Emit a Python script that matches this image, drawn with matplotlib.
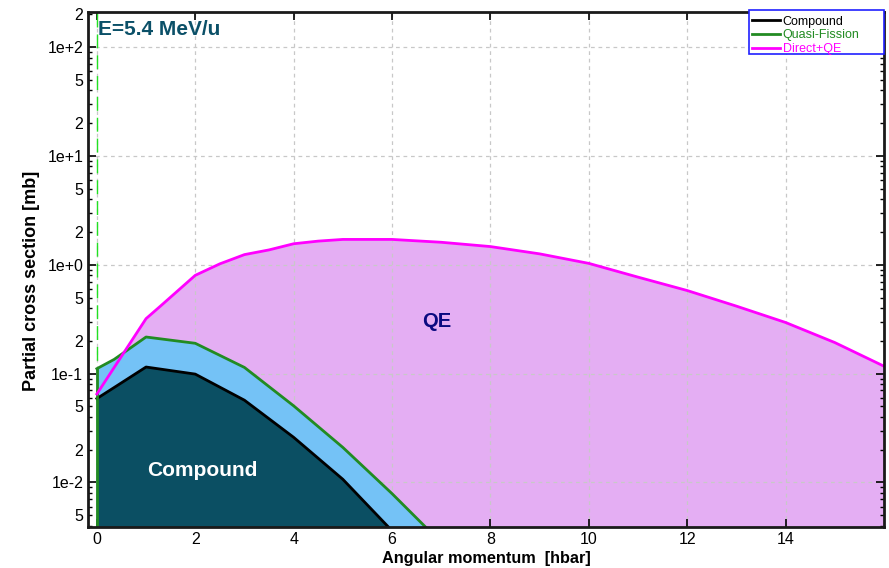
import matplotlib
matplotlib.use("Agg")
import matplotlib.pyplot as plt
from matplotlib.ticker import FixedLocator, FuncFormatter, LogLocator
from matplotlib.patches import Rectangle
import numpy as np

plt.rcParams['font.family'] = ['Liberation Sans', 'DejaVu Sans']

# ---- data ----
L_comp = [0, 0.4, 1, 2, 3, 4, 5, 6]
sigma_comp = [0.059, 0.077, 0.115, 0.099, 0.057, 0.026, 0.0107, 0.0036]

L_qf = [0, 0.35, 1, 2, 3, 4, 5, 6, 7]
sigma_qf = [0.111, 0.135, 0.217, 0.19, 0.114, 0.0506, 0.021, 0.0079, 0.0028]

L_qe = [0, 1, 1.3, 2, 2.5, 3, 3.5, 4, 4.5, 5, 6, 7, 8, 9, 10, 11, 12, 13, 14, 15, 16]
sigma_qe = [0.065, 0.32, 0.42, 0.80, 1.02, 1.24, 1.37, 1.56, 1.65, 1.71, 1.71, 1.61,
            1.47, 1.26, 1.03, 0.77, 0.58, 0.417, 0.295, 0.193, 0.117]

x_ticks = [0, 2, 4, 6, 8, 10, 12, 14]
legend_labels = ["Compound", "Quasi-Fission", "Direct+QE"]
energy_label = "E=5.4 MeV/u"

# ---- figure ----
W, H = 889, 568
fig = plt.figure(figsize=(W / 100, H / 100), dpi=100)
ax = fig.add_axes([88 / W, 1 - 527 / H, (884 - 88) / W, (527 - 12) / H])
ax.set_yscale('log')
ylo, yhi = 0.0039, 210
xlo, xhi = -0.18, 16.0
floor = 1e-8

c_pink = '#E4AEF3'
c_blue = '#74C2F6'
c_dark = '#0B4F63'
c_black = '#000000'
c_green = '#228B22'
c_mag = '#FF00FF'

ax.fill_between(L_qe, floor, sigma_qe, color=c_pink, lw=0, zorder=1)
ax.fill_between(L_qf, floor, sigma_qf, color=c_blue, lw=0, zorder=2)
ax.fill_between(L_comp, floor, sigma_comp, color=c_dark, lw=0, zorder=3)

ax.axvline(L_qf[0], color='#22E022', lw=1.0, ls=(0, (10, 5)), zorder=4)

l1, = ax.plot(L_comp, sigma_comp, color=c_black, lw=2, zorder=5)
l2, = ax.plot(L_qf, sigma_qf, color=c_green, lw=2, zorder=6)
ax.plot([L_qf[0], L_qf[0]], [floor, sigma_qf[0]], color=c_green, lw=2, zorder=6)
l3, = ax.plot(L_qe, sigma_qe, color=c_mag, lw=2, zorder=7)

ax.set_xlim(xlo, xhi)
ax.set_ylim(ylo, yhi)

# grid
ax.grid(True, which='major', color='#c8c8c8', ls=(0, (3, 3)), lw=0.9)
for gl in ax.get_xgridlines() + ax.get_ygridlines():
    gl.set_zorder(4.5)

# ticks
ax.xaxis.set_major_locator(FixedLocator(x_ticks))
ax.xaxis.set_major_formatter(FuncFormatter(lambda v, p: f"{int(v)}"))
ax.yaxis.set_major_locator(LogLocator(base=10, numticks=20))
ax.yaxis.set_minor_locator(LogLocator(base=10, subs=np.arange(2, 10), numticks=50))

def major_fmt(v, p):
    e = int(round(np.log10(v)))
    return f"1e{'+' if e >= 0 else '-'}{abs(e)}"

def minor_fmt(v, p):
    e = np.floor(np.log10(v) + 1e-9)
    m = int(round(v / 10 ** e))
    return str(m) if m in (2, 5) else ""

ax.yaxis.set_major_formatter(FuncFormatter(major_fmt))
ax.yaxis.set_minor_formatter(FuncFormatter(minor_fmt))
ax.tick_params(which='both', direction='in', top=True, right=True, labelsize=11.5,
               colors='black')
ax.tick_params(which='major', length=6, width=1.2)
ax.tick_params(which='minor', length=3, width=1.0)
ax.tick_params(axis='x', which='minor', length=0)
for s in ax.spines.values():
    s.set_linewidth(2)
    s.set_color('#1a1a1a')
    s.set_zorder(10)

ax.set_xlabel("Angular momentum  [hbar]", fontsize=11.7, fontweight='bold', labelpad=3)
ax.set_ylabel("Partial cross section [mb]", fontsize=13, fontweight='bold')
ax.yaxis.set_label_coords(-0.060, 0.478)

# annotations
ax.text(0.013, 0.985, energy_label, transform=ax.transAxes, ha='left', va='top',
        fontsize=15, fontweight='bold', color='#0B5068', zorder=11)
ax.text(6.9, 0.3, "QE", ha='center', va='center', fontsize=14.5, fontweight='bold',
        color='#0A0A80', zorder=11)
ax.text(2.15, 0.0129, "Compound", ha='center', va='center', fontsize=15,
        fontweight='bold', color='white', zorder=11)

# legend with custom frame
frame = Rectangle((749 / W, 1 - 54 / H), 135 / W, 44 / H, transform=fig.transFigure,
                  facecolor='white', edgecolor='#2020ff', lw=1.2, zorder=20)
fig.add_artist(frame)
leg = fig.legend([l1, l2, l3], legend_labels, loc='upper left',
                 bbox_to_anchor=(752 / W, 1 - 15.5 / H), bbox_transform=fig.transFigure,
                 fontsize=9, frameon=False, borderpad=0.0, labelspacing=0.15,
                 handlelength=2.2, handletextpad=0.25, borderaxespad=0.0)
leg.set_zorder(21)
for t, c in zip(leg.get_texts(), [c_black, c_green, c_mag]):
    t.set_color(c)

fig.savefig("out.png", dpi=100)
